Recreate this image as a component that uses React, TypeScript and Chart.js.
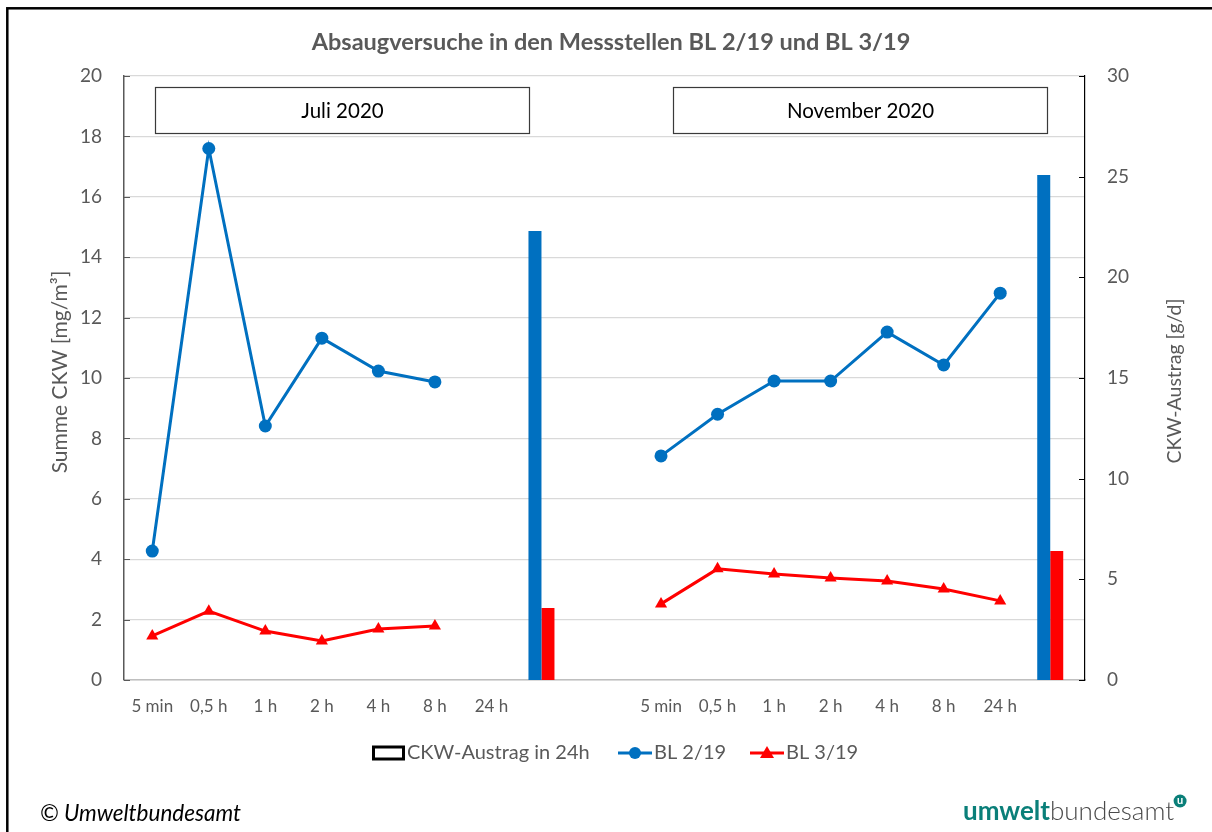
import React, { useEffect, useRef } from "react";
import { Chart, registerables } from "chart.js";

Chart.register(...registerables);

const chartTitle = "Absaugversuche in den Messstellen BL 2/19 und BL 3/19";
const leftAxisTitle = "Summe CKW [mg/m³]";
const rightAxisTitle = "CKW-Austrag [g/d]";
const periodLabels = ["Juli 2020", "November 2020"];

const categories = [
  "5 min", "0,5 h", "1 h", "2 h", "4 h", "8 h", "24 h", "", "",
  "5 min", "0,5 h", "1 h", "2 h", "4 h", "8 h", "24 h", "",
];

const bl2Concentration = [4.27, 17.6, 8.41, 11.32, 10.23, 9.87, null, null, null, 7.42, 8.8, 9.9, 9.9, 11.52, 10.43, 12.81, null];
const bl3Concentration = [1.46, 2.28, 1.62, 1.29, 1.69, 1.79, null, null, null, 2.52, 3.68, 3.51, 3.38, 3.28, 3.01, 2.62, null];

const bl2Austrag = [null, null, null, null, null, null, null, 22.3, null, null, null, null, null, null, null, null, 25.08];
const bl3Austrag = [null, null, null, null, null, null, null, 3.58, null, null, null, null, null, null, null, null, 6.41];
const austragLegendOnly = categories.map(() => null);

const leftRange = { min: 0, max: 20, step: 2 };
const rightRange = { min: 0, max: 30, step: 5 };

const BLUE = "#0070c0";
const RED = "#ff0000";
const GRAY_TEXT = "#595959";
const FONT = "Lato, 'Open Sans', sans-serif";

const overlayPlugin = {
  id: "overlay",
  afterDraw(chart: any) {
    const ctx = chart.ctx as CanvasRenderingContext2D;
    const yS = chart.scales.y;
    const y1S = chart.scales.y1;
    ctx.save();

    // outer frame
    ctx.strokeStyle = "#000";
    ctx.lineWidth = 2.5;
    ctx.strokeRect(7.3, 8.3, 1300, 1000);

    // inner tick marks
    ctx.lineWidth = 1;
    ctx.strokeStyle = "#595959";
    for (let v = leftRange.min; v <= leftRange.max; v += leftRange.step) {
      const py = Math.round(yS.getPixelForValue(v)) + 0.5;
      ctx.beginPath();
      ctx.moveTo(yS.right, py);
      ctx.lineTo(yS.right + 6, py);
      ctx.stroke();
    }
    ctx.strokeStyle = "#000";
    for (let v = rightRange.min; v <= rightRange.max; v += rightRange.step) {
      const py = Math.round(y1S.getPixelForValue(v)) + 0.5;
      ctx.beginPath();
      ctx.moveTo(y1S.left - 6, py);
      ctx.lineTo(y1S.left, py);
      ctx.stroke();
    }

    // title
    ctx.fillStyle = GRAY_TEXT;
    ctx.font = `bold 23.5px ${FONT}`;
    ctx.textAlign = "center";
    ctx.textBaseline = "middle";
    ctx.fillText(chartTitle, 611, 42);

    // axis titles
    ctx.save();
    ctx.font = `21px ${FONT}`;
    ctx.translate(60, 372);
    ctx.rotate(-Math.PI / 2);
    ctx.fillText(leftAxisTitle, 0, 0);
    ctx.restore();
    ctx.save();
    ctx.font = `19.5px ${FONT}`;
    ctx.translate(1175, 381);
    ctx.rotate(-Math.PI / 2);
    ctx.fillText(rightAxisTitle, 0, 0);
    ctx.restore();

    // period boxes
    const boxes = [
      { x: 155.5, w: 374, label: periodLabels[0] },
      { x: 673.5, w: 374, label: periodLabels[1] },
    ];
    boxes.forEach((b) => {
      ctx.fillStyle = "#fff";
      ctx.fillRect(b.x, 87.5, b.w, 46);
      ctx.strokeStyle = "#3a3a3a";
      ctx.lineWidth = 1.2;
      ctx.strokeRect(b.x, 87.5, b.w, 46);
      ctx.fillStyle = "#000";
      ctx.font = `20.5px ${FONT}`;
      ctx.textAlign = "center";
      ctx.textBaseline = "middle";
      ctx.fillText(b.label, b.x + b.w / 2, 111);
    });

    // legend
    const ly = 753;
    const ds = chart.data.datasets;
    ctx.textAlign = "left";
    ctx.textBaseline = "middle";
    ctx.font = `20px ${FONT}`;
    // rect entry
    ctx.fillStyle = "#fff";
    ctx.fillRect(373.5, ly - 6, 30, 12);
    ctx.strokeStyle = "#000";
    ctx.lineWidth = 3;
    ctx.strokeRect(373.5, ly - 6, 30, 12);
    ctx.fillStyle = GRAY_TEXT;
    ctx.fillText(ds[4].label, 407, ly);
    // BL 2/19
    ctx.strokeStyle = BLUE;
    ctx.lineWidth = 3;
    ctx.beginPath();
    ctx.moveTo(618, ly);
    ctx.lineTo(652, ly);
    ctx.stroke();
    ctx.fillStyle = BLUE;
    ctx.beginPath();
    ctx.arc(635, ly, 6, 0, Math.PI * 2);
    ctx.fill();
    ctx.fillStyle = GRAY_TEXT;
    ctx.fillText(ds[0].label, 654, ly);
    // BL 3/19
    ctx.strokeStyle = RED;
    ctx.beginPath();
    ctx.moveTo(750, ly);
    ctx.lineTo(784, ly);
    ctx.stroke();
    ctx.fillStyle = RED;
    ctx.beginPath();
    ctx.moveTo(767, ly - 7);
    ctx.lineTo(774, ly + 5);
    ctx.lineTo(760, ly + 5);
    ctx.closePath();
    ctx.fill();
    ctx.fillStyle = GRAY_TEXT;
    ctx.fillText(ds[1].label, 786, ly);

    // footer
    ctx.fillStyle = "#000";
    ctx.font = `italic 22.5px ${FONT}`;
    ctx.textBaseline = "alphabetic";
    ctx.fillText("© Umweltbundesamt", 40, 821);

    ctx.font = `bold 26px ${FONT}`;
    ctx.fillStyle = "#0a7f79";
    ctx.fillText("umwelt", 963, 820);
    const w1 = ctx.measureText("umwelt").width;
    ctx.font = `300 26px ${FONT}`;
    ctx.fillStyle = "#4a4a4a";
    ctx.fillText("bundesamt", 963 + w1, 820);
    const w2 = ctx.measureText("bundesamt").width;
    const cx = 963 + w1 + w2 + 6;
    ctx.fillStyle = "#0a7f79";
    ctx.beginPath();
    ctx.arc(cx, 801, 6.5, 0, Math.PI * 2);
    ctx.fill();
    ctx.fillStyle = "#fff";
    ctx.font = `bold 11px ${FONT}`;
    ctx.textAlign = "center";
    ctx.textBaseline = "middle";
    ctx.fillText("u", cx, 800);

    ctx.restore();
  },
};

export default function App() {
  const canvasRef = useRef<HTMLCanvasElement | null>(null);

  useEffect(() => {
    if (!canvasRef.current) return;
    const chart = new Chart(canvasRef.current, {
      type: "bar",
      data: {
        labels: categories,
        datasets: [
          {
            type: "line",
            label: "BL 2/19",
            data: bl2Concentration,
            yAxisID: "y",
            borderColor: BLUE,
            backgroundColor: BLUE,
            borderWidth: 3,
            pointStyle: "circle",
            pointRadius: 6.5,
            pointBorderWidth: 0,
            spanGaps: false,
            tension: 0,
          } as any,
          {
            type: "line",
            label: "BL 3/19",
            data: bl3Concentration,
            yAxisID: "y",
            borderColor: RED,
            backgroundColor: RED,
            borderWidth: 3,
            pointStyle: "triangle",
            pointRadius: 7,
            pointBorderWidth: 0,
            spanGaps: false,
            tension: 0,
          } as any,
          {
            type: "bar",
            label: "BL 2/19 Austrag",
            data: bl2Austrag,
            yAxisID: "y1",
            backgroundColor: BLUE,
            categoryPercentage: 0.69,
            barPercentage: 1,
          },
          {
            type: "bar",
            label: "BL 3/19 Austrag",
            data: bl3Austrag,
            yAxisID: "y1",
            backgroundColor: RED,
            categoryPercentage: 0.69,
            barPercentage: 1,
          },
          {
            type: "bar",
            label: "CKW-Austrag in 24h",
            data: austragLegendOnly,
            yAxisID: "y1",
            backgroundColor: "#fff",
            borderColor: "#000",
            borderWidth: 2,
            categoryPercentage: 0.69,
            barPercentage: 1,
          },
        ],
      },
      options: {
        responsive: false,
        animation: false,
        layout: { padding: { top: 76, left: 0, right: 0, bottom: 0 } },
        plugins: {
          legend: { display: false },
          title: { display: false },
          tooltip: { enabled: false },
        },
        scales: {
          x: {
            grid: { display: false, drawTicks: false },
            border: { display: true, color: "#bfbfbf", width: 1.5 },
            ticks: {
              color: GRAY_TEXT,
              font: { family: FONT, size: 17 },
              padding: 16,
              autoSkip: false,
              maxRotation: 0,
            },
            afterFit: (s: any) => {
              s.height = 152;
            },
          },
          y: {
            position: "left",
            min: leftRange.min,
            max: leftRange.max,
            ticks: {
              stepSize: leftRange.step,
              color: GRAY_TEXT,
              font: { family: FONT, size: 19 },
              padding: 22,
            },
            grid: { color: "#d9d9d9", lineWidth: 1.3, drawTicks: false },
            border: { display: true, color: "#595959", width: 1.5 },
            afterFit: (s: any) => {
              s.width = 124;
            },
          },
          y1: {
            position: "right",
            min: rightRange.min,
            max: rightRange.max,
            ticks: {
              stepSize: rightRange.step,
              color: GRAY_TEXT,
              font: { family: FONT, size: 19 },
              padding: 22,
            },
            grid: { display: false, drawTicks: false },
            border: { display: true, color: "#000", width: 1.2 },
            afterFit: (s: any) => {
              s.width = 127;
            },
          },
        },
      },
      plugins: [overlayPlugin],
    });
    return () => chart.destroy();
  }, []);

  return (
    <div style={{ position: "fixed", left: 0, top: 0, width: 1212, height: 832, background: "#fff" }}>
      <canvas ref={canvasRef} width={1212} height={832} style={{ display: "block", width: 1212, height: 832 }} />
    </div>
  );
}
